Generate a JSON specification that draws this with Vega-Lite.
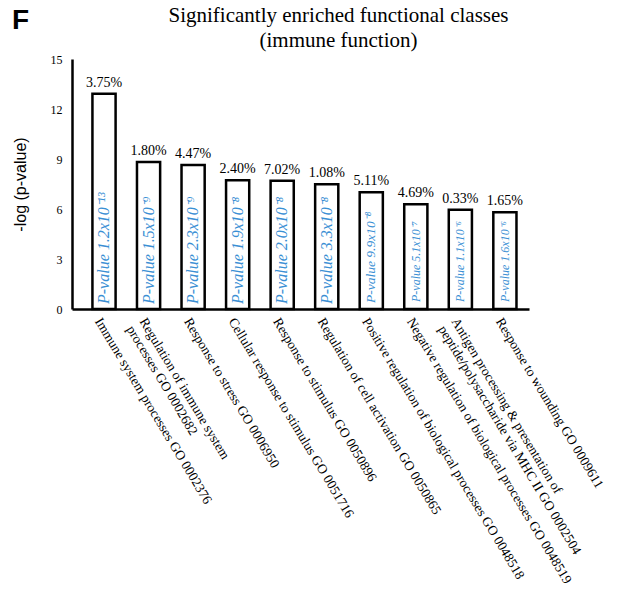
{
  "$schema": "https://vega.github.io/schema/vega-lite/v6.json",
  "padding": {"left": 12, "top": 5, "right": 5, "bottom": 5},
  "background": "white",
  "title": {
    "text": "F",
    "anchor": "start",
    "frame": "bounds",
    "font": "Liberation Sans",
    "fontSize": 28,
    "fontWeight": "bold",
    "color": "black",
    "offset": -30
  },
  "config": {
    "view": {"stroke": null},
    "font": "Liberation Serif"
  },
  "vconcat": [
    {
      "width": 457,
      "height": 250,
      "title": {
        "text": ["Significantly enriched functional classes", "(immune function)"],
        "font": "Liberation Serif",
        "fontSize": 21,
        "fontWeight": "normal",
        "color": "black",
        "anchor": "middle",
        "dx": 38,
        "lineHeight": 25,
        "offset": 2
      },
      "data": {
        "values": [
          {"rank": 1, "term": "Immune system processes GO 0002376", "neglogp": 12.92, "pct": "3.75%", "pvalue": "P-value 1.2x10⁻¹³"},
          {"rank": 2, "term": "Regulation of immune system|processes GO 0002682", "neglogp": 8.82, "pct": "1.80%", "pvalue": "P-value 1.5x10⁻⁹"},
          {"rank": 3, "term": "Response to stress GO 0006950", "neglogp": 8.64, "pct": "4.47%", "pvalue": "P-value 2.3x10⁻⁹"},
          {"rank": 4, "term": "Cellular response to stimulus GO 0051716", "neglogp": 7.72, "pct": "2.40%", "pvalue": "P-value 1.9x10⁻⁸"},
          {"rank": 5, "term": "Response to stimulus GO 0050896", "neglogp": 7.70, "pct": "7.02%", "pvalue": "P-value 2.0x10⁻⁸"},
          {"rank": 6, "term": "Regulation of cell activation GO 0050865", "neglogp": 7.48, "pct": "1.08%", "pvalue": "P-value 3.3x10⁻⁸"},
          {"rank": 7, "term": "Positive regulation of biological processes GO 0048518", "neglogp": 7.00, "pct": "5.11%", "pvalue": "P-value 9.9x10⁻⁸"},
          {"rank": 8, "term": "Negative regulation of biological processes GO 0048519", "neglogp": 6.29, "pct": "4.69%", "pvalue": "P-value 5.1x10⁻⁷"},
          {"rank": 9, "term": "Antigen processing & presentation of|peptide/polysaccharide via MHC II GO 0002504", "neglogp": 5.96, "pct": "0.33%", "pvalue": "P-value 1.1x10⁻⁶"},
          {"rank": 10, "term": "Response to wounding GO 0009611", "neglogp": 5.80, "pct": "1.65%", "pvalue": "P-value 1.6x10⁻⁶"}
        ]
      },
      "encoding": {
        "x": {
          "field": "term",
          "type": "nominal",
          "sort": null,
          "scale": {"paddingInner": 0.48, "paddingOuter": 0.37, "align": 0.62},
          "axis": {
            "title": null,
            "labelExpr": "split(datum.label, '|')",
            "labelAngle": 59,
            "labelAlign": "left",
            "labelBaseline": "top",
            "labelFont": "Liberation Serif",
            "labelFontSize": 13.5,
            "labelLineHeight": 15,
            "labelColor": "black",
            "labelLimit": 500,
            "labelPadding": 6,
            "ticks": false,
            "domainColor": "black",
            "domainWidth": 2.5
          }
        },
        "y": {
          "field": "neglogp",
          "type": "quantitative",
          "scale": {"domain": [0, 15], "nice": false},
          "axis": {
            "title": "-log (p-value)",
            "titleFont": "Liberation Sans",
            "titleFontSize": 16,
            "titleFontWeight": "normal",
            "titleColor": "black",
            "titlePadding": 22,
            "values": [0, 3, 6, 9, 12, 15],
            "labelFont": "Liberation Serif",
            "labelFontSize": 12,
            "labelColor": "black",
            "labelPadding": 10,
            "ticks": false,
            "grid": false,
            "domainColor": "black",
            "domainWidth": 2.5
          }
        }
      },
      "layer": [
        {
          "mark": {"type": "bar", "fill": "white", "stroke": "black", "strokeWidth": 2.5}
        },
        {
          "mark": {"type": "text", "baseline": "bottom", "dy": -4, "fontSize": 14, "font": "Liberation Serif", "color": "black"},
          "encoding": {"text": {"field": "pct"}}
        },
        {
          "transform": [{"filter": "datum.rank <= 6"}],
          "mark": {"type": "text", "angle": 270, "align": "left", "baseline": "middle", "dx": 5, "fontSize": 16, "fontStyle": "italic", "font": "Liberation Serif", "color": "#3a8fd4"},
          "encoding": {"y": {"datum": 0}, "text": {"field": "pvalue"}}
        },
        {
          "transform": [{"filter": "datum.rank == 7"}],
          "mark": {"type": "text", "angle": 270, "align": "left", "baseline": "middle", "dx": 6, "fontSize": 13.5, "fontStyle": "italic", "font": "Liberation Serif", "color": "#3a8fd4"},
          "encoding": {"y": {"datum": 0}, "text": {"field": "pvalue"}}
        },
        {
          "transform": [{"filter": "datum.rank >= 8"}],
          "mark": {"type": "text", "angle": 270, "align": "left", "baseline": "middle", "dx": 7, "fontSize": 12, "fontStyle": "italic", "font": "Liberation Serif", "color": "#3a8fd4"},
          "encoding": {"y": {"datum": 0}, "text": {"field": "pvalue"}}
        }
      ]
    }
  ]
}
